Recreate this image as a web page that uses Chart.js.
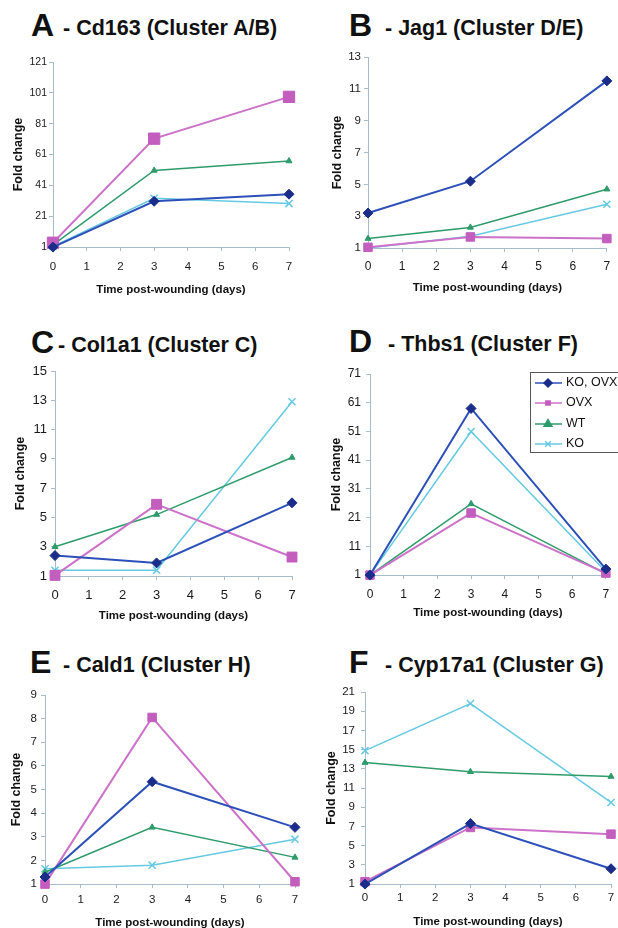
<!DOCTYPE html>
<html>
<head>
<meta charset="utf-8">
<script src="https://cdn.jsdelivr.net/npm/chart.js@4.4.1/dist/chart.umd.min.js"></script>
<style>
  body { margin: 0; background: #fff; width: 618px; height: 928px; position: relative; overflow: hidden;
         font-family: "Liberation Sans", Arial, sans-serif; }
  canvas { position: absolute; }
  .ttl { position: absolute; white-space: nowrap; font-weight: bold; color: #111; line-height: 1; }
</style>
</head>
<body>
<script>
// x values (days after wounding) and axis ticks
const days = [0, 3, 7];
const xTicks = [0, 1, 2, 3, 4, 5, 6, 7];
const seriesNames = ['KO, OVX', 'OVX', 'WT', 'KO'];

const panelLetters = ['A', 'B', 'C', 'D', 'E', 'F'];
const panelTitles = ['- Cd163 (Cluster A/B)', '- Jag1 (Cluster D/E)', '- Col1a1 (Cluster C)',
                     '- Thbs1 (Cluster F)', '- Cald1 (Cluster H)', '- Cyp17a1 (Cluster G)'];

// fold change, series order: KO,OVX / OVX / WT / KO
const cd163   = [[1, 30.7, 35.3], [3.8, 71.3, 98.4], [2.5, 50.7, 56.8], [1.5, 32.7, 29.2]];
const jag1    = [[3.2, 5.2, 11.5], [1.05, 1.7, 1.6], [1.6, 2.3, 4.7], [1.0, 1.75, 3.75]];
const col1a1  = [[2.4, 1.9, 6.0], [1.05, 5.9, 2.3], [3.0, 5.2, 9.1], [1.4, 1.4, 12.9]];
const thbs1   = [[1, 59, 3.1], [1, 22.6, 1.7], [1, 25.8, 1.5], [1, 51, 2.2]];
const cald1   = [[1.3, 5.33, 3.4], [1.0, 8.05, 1.1], [1.5, 3.4, 2.13], [1.65, 1.8, 2.9]];
const cyp17a1 = [[1.0, 7.3, 2.6], [1.25, 6.9, 6.2], [13.65, 12.7, 12.2], [14.9, 19.8, 9.5]];

// y tick labels per panel
const cd163Ticks   = [1, 21, 41, 61, 81, 101, 121];
const jag1Ticks    = [1, 3, 5, 7, 9, 11, 13];
const col1a1Ticks  = [1, 3, 5, 7, 9, 11, 13, 15];
const thbs1Ticks   = [1, 11, 21, 31, 41, 51, 61, 71];
const cald1Ticks   = [1, 2, 3, 4, 5, 6, 7, 8, 9];
const cyp17a1Ticks = [1, 3, 5, 7, 9, 11, 13, 15, 17, 19, 21];

const panelData = [cd163, jag1, col1a1, thbs1, cald1, cyp17a1];
const panelTicks = [cd163Ticks, jag1Ticks, col1a1Ticks, thbs1Ticks, cald1Ticks, cyp17a1Ticks];

const AXIS = '#a9bccd';
const styles = [
  { line: '#2d50b8', fill: '#1b2d8a', point: 'rectRot',  r: 5,   w: 2 },
  { line: '#cc72c9', fill: '#c35dbe', point: 'rect',     r: 6,   w: 2 },
  { line: '#2e9b6b', fill: '#2e9b6b', point: 'triangle', r: 3.5, w: 1.5 },
  { line: '#66c9e2', fill: '#66c9e2', point: 'crossRot', r: 5,   w: 1.5 }
];

// page geometry of each panel (plot box, label positions)
const geo = [
  { cl: 0,   cw: 309, l: 53,  t: 62,  r: 289, b: 247, yl: 47,  yt: 18,  xl: 267, xt: 290, yfs: 10.5, xfs: 11.5, sq: 8, bl: 36,  lx: 31,  tx: 63 },
  { cl: 310, cw: 308, l: 368, t: 57,  r: 615, b: 248, yl: 361, yt: 337, xl: 267, xt: 288, yfs: 11.5, xfs: 12, sq: 6, bl: 36,  lx: 349, tx: 385 },
  { cl: 0,   cw: 309, l: 55,  t: 371, r: 292, b: 576, yl: 47,  yt: 20,  xl: 595, xt: 616, yfs: 13, xfs: 13, sq: 7, bl: 353, lx: 31,  tx: 58 },
  { cl: 310, cw: 308, l: 370, t: 374, r: 613, b: 575, yl: 361, yt: 336, xl: 595, xt: 613, yfs: 12, xfs: 12, sq: 6, bl: 352, lx: 349, tx: 388 },
  { cl: 0,   cw: 309, l: 45,  t: 695, r: 295, b: 884, yl: 37,  yt: 16,  xl: 900, xt: 923, yfs: 11.5, xfs: 11.5, sq: 6, bl: 673, lx: 30,  tx: 63 },
  { cl: 310, cw: 308, l: 365, t: 692, r: 615, b: 884, yl: 355, yt: 331, xl: 898, xt: 922, yfs: 11.5, xfs: 11.5, sq: 6, bl: 673, lx: 349, tx: 385 }
];

const FONT = "'Liberation Sans', Arial, sans-serif";

// legend drawn inside panel D
const legendInside = {
  id: 'legendInside',
  afterDraw(chart, args, opts) {
    if (!opts.show) return;
    const ctx = chart.ctx;
    const a = chart.chartArea;
    const x0 = a.left + 160, y0 = a.top - 2;
    ctx.save();
    ctx.fillStyle = '#fff';
    ctx.strokeStyle = '#555';
    ctx.lineWidth = 1;
    ctx.fillRect(x0, y0, chart.width - x0 + 2, 80);
    ctx.strokeRect(x0 + 0.5, y0 + 0.5, chart.width - x0 + 2, 80);
    const rows = [9, 29, 50, 70];
    const legR = [4, 3, 4.5, 4];
    chart.data.datasets.forEach((ds, k) => {
      const y = y0 + rows[k] + 2;
      const s = styles[k];
      ctx.strokeStyle = s.line;
      ctx.lineWidth = 1.5;
      ctx.beginPath();
      ctx.moveTo(x0 + 5, y);
      ctx.lineTo(x0 + 32, y);
      ctx.stroke();
      ctx.fillStyle = s.fill;
      ctx.strokeStyle = s.fill;
      Chart.helpers.drawPoint(ctx, { pointStyle: s.point, radius: legR[k], borderWidth: 1, rotation: 0 }, x0 + 18, y);
      ctx.fillStyle = '#111';
      ctx.font = '12.5px ' + FONT;
      ctx.textBaseline = 'middle';
      ctx.textAlign = 'left';
      ctx.fillText(ds.label, x0 + 36, y);
    });
    ctx.restore();
  }
};

geo.forEach((g, i) => {
  // title
  const letter = document.createElement('div');
  letter.className = 'ttl';
  letter.style.fontSize = '32px';
  letter.style.left = g.lx + 'px';
  letter.style.top = (g.bl - 0.8465 * 32) + 'px';
  letter.textContent = panelLetters[i];
  document.body.appendChild(letter);
  const txt = document.createElement('div');
  txt.className = 'ttl';
  txt.style.fontSize = '21.5px';
  txt.style.left = g.tx + 'px';
  txt.style.top = (g.bl - 0.8465 * 21.5) + 'px';
  txt.textContent = panelTitles[i];
  document.body.appendChild(txt);

  const ct = g.t - 14;
  const xTitleLH = 11.5 * 1.2;
  const ch = Math.ceil(g.xt + xTitleLH / 2 - ct);
  const canvas = document.createElement('canvas');
  canvas.width = g.cw;
  canvas.height = ch;
  canvas.style.left = g.cl + 'px';
  canvas.style.top = ct + 'px';
  canvas.style.width = g.cw + 'px';
  canvas.style.height = ch + 'px';
  document.body.appendChild(canvas);

  const yTicks = panelTicks[i];
  const datasets = panelData[i].map((vals, k) => {
    const s = styles[k];
    const r = (k === 1) ? g.sq : s.r;
    return {
      label: seriesNames[k],
      data: days.map((d, j) => ({ x: d, y: vals[j] })),
      borderColor: s.line,
      backgroundColor: s.fill,
      borderWidth: s.w,
      pointStyle: s.point,
      pointRadius: r,
      pointHoverRadius: r,
      pointBackgroundColor: s.fill,
      pointBorderColor: s.fill,
      pointBorderWidth: k === 3 ? 1.5 : 1,
      tension: 0,
      clip: false
    };
  });

  new Chart(canvas, {
    type: 'line',
    data: { datasets: datasets },
    plugins: [legendInside],
    options: {
      responsive: false,
      animation: false,
      devicePixelRatio: 1,
      layout: { padding: { left: 0, top: 14, right: g.cw - (g.r - g.cl), bottom: 0 } },
      plugins: {
        legend: { display: false },
        tooltip: { enabled: false },
        legendInside: { show: i === 3 }
      },
      scales: {
        x: {
          type: 'linear',
          min: 0,
          max: 7,
          afterBuildTicks: s => { s.ticks = xTicks.map(v => ({ value: v })); },
          afterFit: s => { s.height = g.xt + xTitleLH / 2 - g.b; },
          grid: { drawOnChartArea: false, tickLength: 4, color: AXIS },
          border: { color: AXIS, width: 1 },
          ticks: {
            color: '#1a1a1a',
            padding: g.xl - g.b - 4 - g.xfs * 0.6,
            font: { size: g.xfs, family: FONT },
            maxRotation: 0
          },
          title: {
            display: true,
            text: 'Time post-wounding (days)',
            color: '#111',
            padding: { top: 0, bottom: 0 },
            font: { size: 11.5, weight: 'bold', family: FONT }
          }
        },
        y: {
          min: yTicks[0],
          max: yTicks[yTicks.length - 1],
          afterBuildTicks: s => { s.ticks = yTicks.map(v => ({ value: v })); },
          afterFit: s => { s.width = g.l - g.cl; },
          grid: { drawOnChartArea: false, tickLength: 4, color: AXIS },
          border: { color: AXIS, width: 1 },
          ticks: {
            color: '#1a1a1a',
            padding: g.l - 4 - g.yl,
            font: { size: g.yfs, family: FONT }
          },
          title: {
            display: true,
            text: 'Fold change',
            color: '#111',
            padding: { top: g.yt - g.cl - 7.2, bottom: 0 },
            font: { size: 12.5, weight: 'bold', family: FONT }
          }
        }
      }
    }
  });
});
</script>
</body>
</html>
